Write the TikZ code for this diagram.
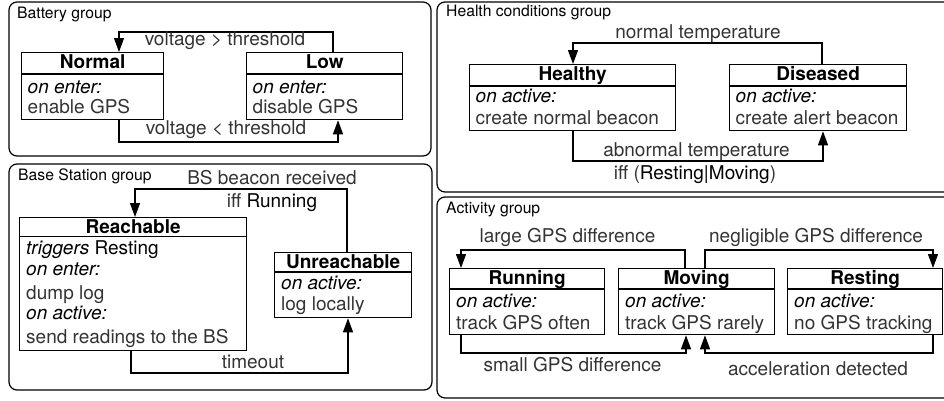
\documentclass[tikz,border=0pt]{standalone}
\usepackage{fontspec}
\setmainfont{TeX Gyre Heros}
\usetikzlibrary{arrows.meta}
\definecolor{lt}{gray}{0.2}
\newcommand{\itl}[1]{\textcolor{black}{\textit{#1}}}
\newcommand{\rg}[1]{\textcolor{black}{#1}}
\tikzset{
  grp/.style={draw, line width=1.2pt, rounded corners=8pt},
  grplbl/.style={anchor=base west, inner sep=0pt, font=\fontsize{15.7}{18}\selectfont},
  state/.style={draw, line width=1.3pt, anchor=north west, inner sep=0pt},
  sepl/.style={line width=1.3pt},
  ttl/.style={anchor=base, inner sep=0pt, font=\fontsize{19}{22}\selectfont\bfseries},
  body/.style={anchor=base west, inner sep=0pt, text=lt, font=\fontsize{19}{22}\selectfont},
  lbl/.style={anchor=base, inner sep=0pt, text=lt, font=\fontsize{19}{22}\selectfont},
  arr/.style={draw, line width=1.2pt, -{Triangle[width=10pt,length=14pt]}},
}
% name, x1, y1, x2, y2, separator y, title
\newcommand{\stbox}[7]{%
  \node[state, minimum width={#4pt-#2pt}, minimum height={#5pt-#3pt}] (#1) at (#2,#3) {};
  \draw[sepl] (#1.west |- 0,#6) -- (#1.east |- 0,#6);
  \node[ttl] (#1-t) at (#1.north |- 0,#3+16.3) {#7};
}
\begin{document}
\begin{tikzpicture}[x=1pt,y=-1pt]
\useasboundingbox (0,0) rectangle (944,400);
% group frames
\draw[grp] (9,2) rectangle (431,156);
\draw[grp] (9,164) rectangle (432,390);
\draw[grp] (437,2) rectangle (962,192);
\draw[grp] (437,197) rectangle (962,398);
\node[grplbl] (gbat) at (17,18) {Battery group};
\node[grplbl] (gbs) at (18,180.5) {Base Station group};
\node[grplbl] (ghc) at (446,16.7) {Health conditions group};
\node[grplbl] (gact) at (446,213.3) {Activity group};

% ---------- Battery group
\stbox{normal}{21}{52}{163}{119}{74}{Normal}
\stbox{low}{246}{52}{402}{119}{74}{Low}
\node[body] (normal-1) at (27.5,93.5) {\itl{on enter:}};
\node[body] (normal-2) at (27.5,113) {enable GPS};
\node[body] (low-1) at (252.5,93.5) {\itl{on enter:}};
\node[body] (low-2) at (252.5,113) {disable GPS};
\draw[arr] (low.north -| 333,0) |- (119,32) -- (normal.north -| 119,0);
\node[lbl] (l-vgt) at (225,45) {voltage > threshold};
\draw[arr] (normal.south -| 119,0) |- (338,142) -- (low.south -| 338,0);
\node[lbl] (l-vlt) at (226,134) {voltage < threshold};

% ---------- Base Station group
\stbox{reach}{19}{217}{246}{350}{236.5}{Reachable}
\stbox{unreach}{274}{252}{411}{317}{272}{Unreachable}
\node[body] (reach-1) at (26,254.5) {\itl{triggers} \rg{Resting}};
\node[body] (reach-2) at (26,275) {\itl{on enter:}};
\node[body] (reach-3) at (26,299) {dump log};
\node[body] (reach-4) at (26,319.5) {\itl{on active:}};
\node[body] (reach-5) at (26,343.5) {send readings to the BS};
\node[body] (unreach-1) at (281,289.5) {\itl{on active:}};
\node[body] (unreach-2) at (281,310) {log locally};
\draw[arr] (unreach.north -| 347,0) |- (135,189) -- (reach.north -| 135,0);
\node[lbl] (l-bs1) at (272,184) {BS beacon received};
\node[lbl] (l-bs2) at (272,207) {iff \rg{Running}};
\draw[arr] (reach.south -| 131,0) |- (348,373) -- (unreach.south -| 348,0);
\node[lbl] (l-to) at (253,368) {timeout};

% ---------- Health conditions group
\stbox{healthy}{469}{64}{675}{130}{86}{Healthy}
\stbox{diseased}{729}{64}{906}{130}{86}{Diseased}
\node[body] (healthy-1) at (475.5,102.5) {\itl{on active:}};
\node[body] (healthy-2) at (475.5,124) {create normal beacon};
\node[body] (diseased-1) at (735.5,102.5) {\itl{on active:}};
\node[body] (diseased-2) at (735.5,124) {create alert beacon};
\draw[arr] (diseased.north -| 822,0) |- (573,43) -- (healthy.north -| 573,0);
\node[lbl] (l-nt) at (698,38.5) {normal temperature};
\draw[arr] (healthy.south -| 573,0) |- (823,161) -- (diseased.south -| 823,0);
\node[lbl] (l-at1) at (696.5,156.5) {abnormal temperature};
\node[lbl] (l-at2) at (695,179) {iff (\rg{Resting|Moving})};

% ---------- Activity group
\stbox{running}{449}{268}{604}{334}{289}{Running}
\stbox{moving}{618}{268}{774}{334}{289}{Moving}
\stbox{resting}{787}{268}{942}{334}{289}{Resting}
\node[body] (running-1) at (456,307.5) {\itl{on active:}};
\node[body] (running-2) at (456,329) {track GPS often};
\node[body] (moving-1) at (625,307.5) {\itl{on active:}};
\node[body] (moving-2) at (625,329) {track GPS rarely};
\node[body] (resting-1) at (794,307.5) {\itl{on active:}};
\node[body] (resting-2) at (794,329) {no GPS tracking};
\draw[arr] (moving.north -| 685,0) |- (461,250) -- (running.north -| 461,0);
\node[lbl] (l-large) at (567.5,242.5) {large GPS difference};
\draw[arr] (moving.north -| 705,0) |- (933,250) -- (resting.north -| 933,0);
\node[lbl] (l-negl) at (816,242.5) {negligible GPS difference};
\draw[arr] (running.south -| 461,0) |- (686,353) -- (moving.south -| 686,0);
\node[lbl] (l-small) at (572.5,371) {small GPS difference};
\draw[arr] (resting.south -| 933,0) |- (705,353) -- (moving.south -| 705,0);
\node[lbl] (l-acc) at (818,375) {acceleration detected};
\end{tikzpicture}
\end{document}
